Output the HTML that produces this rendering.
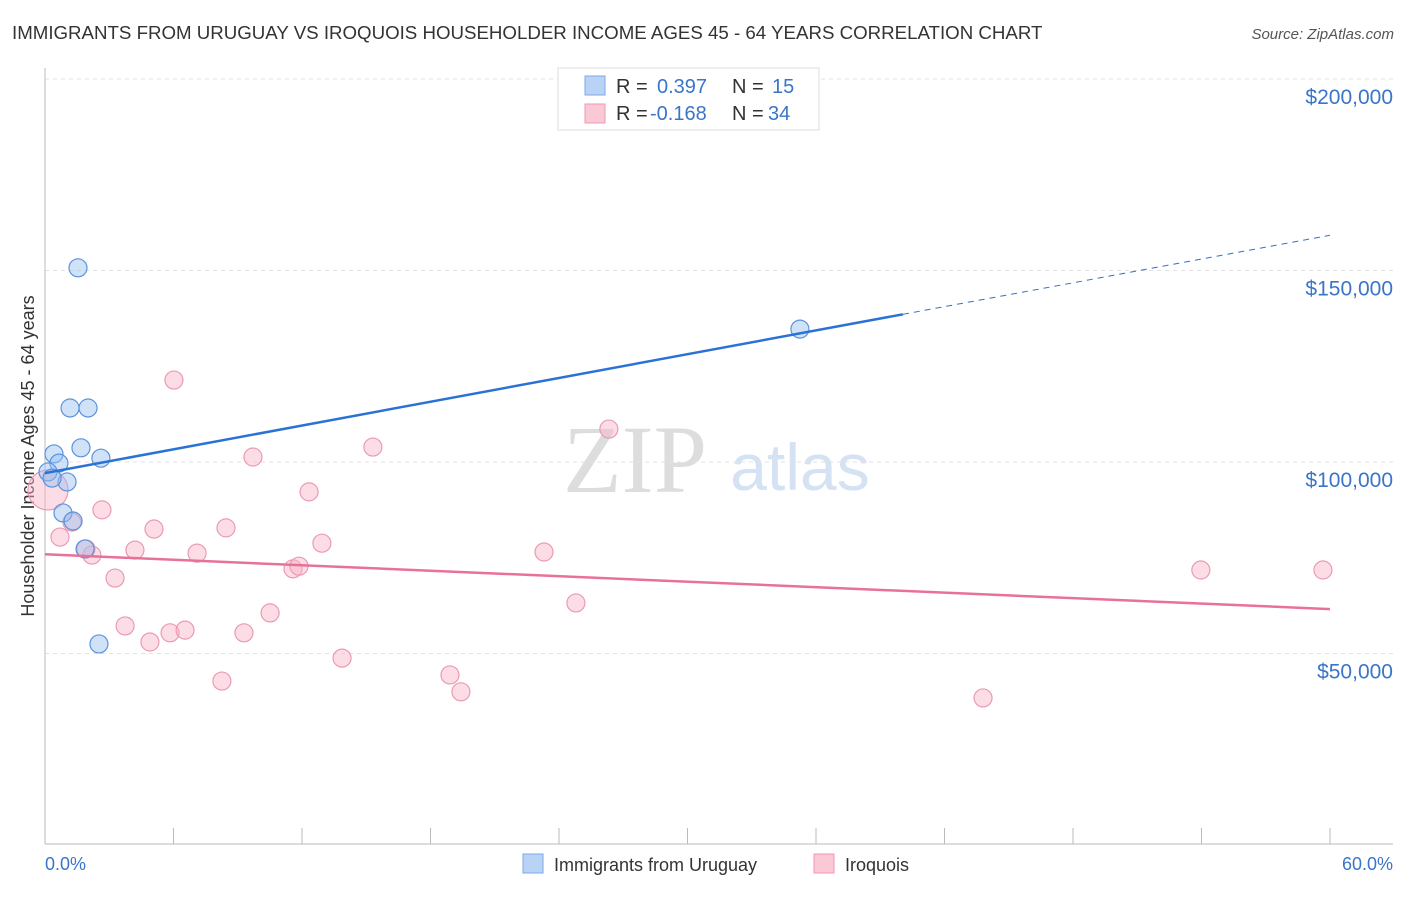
<!DOCTYPE html>
<html><head><meta charset="utf-8"><style>
body{margin:0;background:#fff;font-family:"Liberation Sans",sans-serif}
</style></head><body>
<svg width="1406" height="892" xmlns="http://www.w3.org/2000/svg" id="chart">
<text x="12" y="39" font-size="18.7" fill="#333">IMMIGRANTS FROM URUGUAY VS IROQUOIS HOUSEHOLDER INCOME AGES 45 - 64 YEARS CORRELATION CHART</text>
<text x="1394" y="39" font-size="15" fill="#555" font-style="italic" text-anchor="end">Source: ZipAtlas.com</text>
<text x="635" y="492" font-size="96" fill="#ddd" font-family="Liberation Serif,serif" text-anchor="middle">ZIP</text>
<text x="800" y="490" font-size="66" fill="#d4e2f4" text-anchor="middle">atlas</text>
<text transform="translate(34,456) rotate(-90)" font-size="18" fill="#333" text-anchor="middle">Householder Income Ages 45 - 64 years</text>
<g id="grid"></g><g id="marks"></g>
<g>
<rect x="558" y="68" width="261" height="62" fill="#fff" stroke="#ddd"/>
<rect x="585" y="76" width="20" height="19" fill="#b8d3f5" stroke="#7fa9e6"/>
<rect x="585" y="104" width="20" height="19" fill="#fbc8d6" stroke="#ee9ab2"/>
<text x="616" y="93" font-size="20" fill="#333">R = <tspan x="657" fill="#3a75c9">0.397</tspan><tspan x="732" fill="#333">N = </tspan><tspan x="772" fill="#3a75c9">15</tspan></text>
<text x="616" y="120" font-size="20" fill="#333">R = <tspan x="650" fill="#3a75c9">-0.168</tspan><tspan x="732" fill="#333">N = </tspan><tspan x="768" fill="#3a75c9">34</tspan></text>
</g>
<g>
<rect x="523" y="854" width="20" height="19" fill="#b8d3f5" stroke="#7fa9e6"/>
<text x="554" y="871" font-size="18" fill="#333">Immigrants from Uruguay</text>
<rect x="814" y="854" width="20" height="19" fill="#fbc8d6" stroke="#ee9ab2"/>
<text x="845" y="871" font-size="18" fill="#333">Iroquois</text>
</g>
<text x="45" y="870" font-size="18" fill="#3a75c9">0.0%</text>
<text x="1393" y="870" font-size="18" fill="#3a75c9" text-anchor="end">60.0%</text>
</svg>
<script>
const yTicks=[50000,100000,150000,200000];
const yTickLabels=["$50,000","$100,000","$150,000","$200,000"];
const xTicks=[0,6,12,18,24,30,36,42,48,54,60];
const blueX=[1.54,1.17,2.01,1.68,0.42,0.65,2.61,0.14,1.03,0.33,0.84,1.31,1.87,2.52,35.25];
const blueY=[150.7,114.1,114.1,103.7,102.1,99.7,101.0,97.4,94.8,95.8,86.7,84.6,77.3,52.5,134.7];
const pinkX=[6.02,9.71,15.31,26.33,12.33,2.66,5.09,8.45,0.70,1.26,12.93,4.20,7.10,2.19,1.91,23.30,11.58,11.86,3.27,53.97,59.67,3.74,4.90,5.84,6.54,9.29,10.51,24.79,13.87,8.26,18.91,19.42,43.80,0.14];
const pinkY=[121.4,101.3,103.9,108.6,92.2,87.5,82.5,82.8,80.4,84.3,78.8,77.0,76.2,75.7,77.3,76.5,72.1,72.8,69.7,71.8,71.8,57.2,53.0,55.4,56.1,55.4,60.6,63.2,48.8,42.8,44.4,40.0,38.4,92.7];
const blueTrend=[97.1,159.2], blueSolidEnd=40.06;
const pinkTrend=[75.9,61.6];
const NS="http://www.w3.org/2000/svg";
const sx=p=>45+p*1285/60;
const sy=v=>79+(200000-v)/50000*191.5;
const syk=k=>sy(k*1000);
function mk(t,a,p){const e=document.createElementNS(NS,t);for(const k in a)e.setAttribute(k,a[k]);p.appendChild(e);return e;}
const grid=document.getElementById('grid'),marks=document.getElementById('marks');
yTicks.forEach((v,i)=>{
 const l=mk('line',{x1:45,x2:1393,y1:sy(v),y2:sy(v),stroke:'#e2e2e2','stroke-dasharray':'4,4'},grid);
 
 
 const t=mk('text',{x:1393,y:sy(v)+25,'font-size':21,fill:'#3a75c9','text-anchor':'end'},grid);
 t.textContent=yTickLabels[i];
 
 
});
const ax=mk('line',{x1:45,x2:45,y1:68,y2:844,stroke:'#bbb'},grid);


const bx=mk('line',{x1:45,x2:1393,y1:844,y2:844,stroke:'#bbb'},grid);


xTicks.forEach(p=>{
 const l=mk('line',{x1:sx(p),x2:sx(p),y1:828,y2:844,stroke:'#bbb'},grid);
 
 
});
function dots(X,Y,fill,stroke,name){
 X.forEach((x,i)=>{
  const big=(name==='pink-point'&&i===X.length-1);
  const c=mk('circle',{cx:sx(x),cy:syk(Y[i]),r:big?20:9,fill:fill,stroke:stroke,'stroke-width':1.2},marks);
  
  
 });
}
dots(pinkX,pinkY,'rgba(248,180,200,0.45)','#eb9ab3','pink-point');
dots(blueX,blueY,'rgba(150,190,240,0.45)','#5b93dd','blue-point');
const bt=v=>blueTrend[0]+(blueTrend[1]-blueTrend[0])*v/60;
let l=mk('line',{x1:sx(0),y1:syk(bt(0)),x2:sx(blueSolidEnd),y2:syk(bt(blueSolidEnd)),stroke:'#2a72d6','stroke-width':2.5},marks);


l=mk('line',{x1:sx(blueSolidEnd),y1:syk(bt(blueSolidEnd)),x2:sx(60),y2:syk(bt(60)),stroke:'#2a72d6','stroke-width':1,'stroke-dasharray':'6,5'},marks);


l=mk('line',{x1:sx(0),y1:syk(pinkTrend[0]),x2:sx(60),y2:syk(pinkTrend[1]),stroke:'#e8719a','stroke-width':2.5},marks);


</script>
</body></html>
